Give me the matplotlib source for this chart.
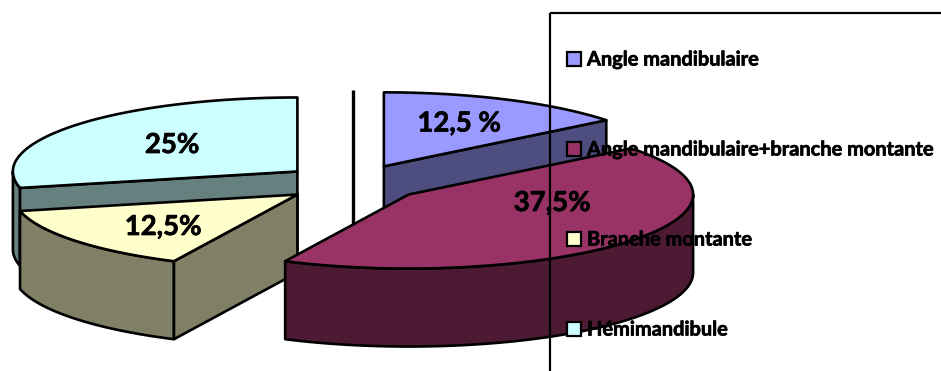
import numpy as np
import matplotlib
matplotlib.use('Agg')
import matplotlib.pyplot as plt
import matplotlib.patheffects as pe
from matplotlib.patches import Polygon, Rectangle

categories = ['Angle mandibulaire', 'Angle mandibulaire+branche montante', 'Branche montante', 'Hémimandibule']
values = [12.5, 37.5, 12.5, 25]
value_labels = ['12,5 %', '37,5%', '12,5%', '25%']

top_colors = ['#9999FF', '#993366', '#FFFFCC', '#CCFFFF']
wall_colors = ['#4D4D80', '#4D1A33', '#808066', '#668080']

# pie geometry, everything in pixels (y goes down)
cx, cy = 353, 183
rx, ry = 284.5, 74
depth = 78
explode = 0.25
lw = 1.9

fig = plt.figure(figsize=(9.41, 3.71), dpi=100)
ax = fig.add_axes([0, 0, 1, 1])
ax.set_xlim(0, 941)
ax.set_ylim(371, 0)
ax.axis('off')

# angles clockwise from 12 o'clock
edges = np.concatenate([[0], np.cumsum(values)]) / np.sum(values) * 2 * np.pi


def point(t, ox, oy, r=1.0):
    return ox + r * rx * np.sin(t), oy - r * ry * np.cos(t)


def arc(t0, t1, ox, oy):
    t = np.linspace(t0, t1, 120)
    x, y = point(t, ox, oy)
    return np.column_stack([x, y])


def offset(i):
    mid = (edges[i] + edges[i + 1]) / 2
    return point(mid, cx, cy, explode)


def add_poly(pts, color, z):
    ax.add_patch(Polygon(pts, closed=True, facecolor=color, edgecolor='black',
                         linewidth=lw, joinstyle='round', zorder=z))


def radial_wall(t, ox, oy, color, z):
    ex, ey = point(t, ox, oy)
    add_poly([(ox, oy), (ex, ey), (ex, ey + depth), (ox, oy + depth)], color, z)


def outer_wall(t0, t1, ox, oy, color, z):
    a = arc(t0, t1, ox, oy)
    b = a[::-1] + [0, depth]
    add_poly(np.vstack([a, b]), color, z)


def top_face(i, ox, oy, z):
    add_poly(np.vstack([[(ox, oy)], arc(edges[i], edges[i + 1], ox, oy)]), top_colors[i], z)


# vertical line at the pie centre, hidden by the big slice further down
ax.plot([cx, cx], [90, 240], color='black', linewidth=2.4, solid_capstyle='butt', zorder=1)

# Hémimandibule (back left)
ox, oy = offset(3)
outer_wall(edges[3], 1.5 * np.pi, ox, oy, wall_colors[3], 2)
radial_wall(edges[3], ox, oy, wall_colors[3], 3)
top_face(3, ox, oy, 4)

# Angle mandibulaire (back right)
ox, oy = offset(0)
ax.plot([ox, ox], [oy, oy + depth], color='black', linewidth=lw, zorder=3)
radial_wall(edges[1], ox, oy, wall_colors[0], 3)
top_face(0, ox, oy, 4)

# Branche montante (front left)
ox, oy = offset(2)
outer_wall(edges[2], edges[3], ox, oy, wall_colors[2], 5)
radial_wall(edges[2], ox, oy, wall_colors[2], 5)
top_face(2, ox, oy, 6)

# Angle mandibulaire+branche montante (front right)
ox, oy = offset(1)
outer_wall(0.5 * np.pi, edges[2], ox, oy, wall_colors[1], 7)
top_face(1, ox, oy, 8)

# thin stroke to thicken the bold text a little
heavy = [pe.withStroke(linewidth=0.5, foreground='black')]

label_pos = [(459, 123.5), (552, 203), (163, 227), (172, 145)]
for txt, (lx, ly) in zip(value_labels, label_pos):
    ax.text(lx, ly, txt, ha='center', va='center', family='Lato', weight='bold',
            fontsize=19.8, color='black', zorder=9, path_effects=heavy)

# legend box runs off the canvas on the right and bottom
ax.add_patch(Rectangle((550, 13), 600, 600, fill=False, edgecolor='black', linewidth=1.6, zorder=10))
for i, name in enumerate(categories):
    y = 58.5 + i * 90
    ax.add_patch(Rectangle((567.5, y - 7), 14, 14, facecolor=top_colors[i], edgecolor='black',
                           linewidth=1.6, zorder=11))
    ax.text(587, y + 1, name, ha='left', va='center', family='Lato', weight='bold',
            fontsize=14.4, color='black', zorder=11, path_effects=heavy)

fig.savefig('out.png', dpi=100)
